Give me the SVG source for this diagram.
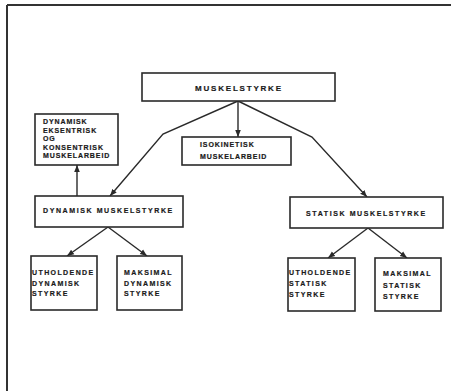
<svg xmlns="http://www.w3.org/2000/svg" width="451" height="391" viewBox="0 0 451 391">
<defs>
<style>
.box{fill:#fff;stroke:#2a2a2a;stroke-width:1.6}
.t{font-family:"Liberation Sans",Arial,sans-serif;font-weight:bold;font-size:7px;letter-spacing:0.9px;fill:#1a1a1a;stroke:#1a1a1a;stroke-width:0.2}
.w{letter-spacing:1.4px}
.ww{letter-spacing:1.6px}
.tt{font-family:"Liberation Sans",Arial,sans-serif;font-weight:bold;font-size:8px;letter-spacing:1.8px;fill:#1a1a1a;stroke:#1a1a1a;stroke-width:0.2}
.c{fill:none;stroke:#2a2a2a;stroke-width:1.4}
</style>
<marker id="ah" viewBox="0 0 10 10" refX="10" refY="5" markerWidth="7" markerHeight="7" orient="auto" markerUnits="userSpaceOnUse">
<path d="M0,1 L10,5 L0,9 Z" fill="#2a2a2a"/>
</marker>
</defs>
<rect width="451" height="391" fill="#fff"/>
<g id="frame" fill="none" stroke="#333" stroke-width="2">
<line x1="7" y1="5" x2="451" y2="5"/>
<line x1="7" y1="5" x2="7" y2="391"/>
</g>
<g id="connectors">
<polyline class="c" points="238,101 163,134 110,196" marker-end="url(#ah)"/>
<polyline class="c" points="238,101 312,137 367,197" marker-end="url(#ah)"/>
<line class="c" x1="238" y1="101" x2="238" y2="137" marker-end="url(#ah)"/>
<line class="c" x1="77" y1="196" x2="77" y2="165" marker-end="url(#ah)"/>
<line class="c" x1="108" y1="227" x2="67" y2="256" marker-end="url(#ah)"/>
<line class="c" x1="108" y1="227" x2="147" y2="256" marker-end="url(#ah)"/>
<line class="c" x1="368" y1="228" x2="328" y2="258" marker-end="url(#ah)"/>
<line class="c" x1="368" y1="228" x2="407" y2="258" marker-end="url(#ah)"/>
</g>
<g id="muskelstyrke">
<rect class="box" x="142" y="73" width="193" height="28"/>
<text class="tt" x="195" y="91">MUSKELSTYRKE</text>
</g>
<g id="eksentrisk">
<rect class="box" x="35" y="114" width="83" height="51"/>
<text class="t" x="43" y="124">DYNAMISK</text>
<text class="t" x="43" y="133">EKSENTRISK</text>
<text class="t" x="43" y="141">OG</text>
<text class="t" x="43" y="150">KONSENTRISK</text>
<text class="t" x="43" y="158">MUSKELARBEID</text>
</g>
<g id="isokinetisk">
<rect class="box" x="182" y="137" width="109" height="28"/>
<text class="t" x="200" y="147">ISOKINETISK</text>
<text class="t" x="200" y="159">MUSKELARBEID</text>
</g>
<g id="dynamisk">
<rect class="box" x="35" y="196" width="148" height="31"/>
<text class="t ww" x="43" y="213">DYNAMISK MUSKELSTYRKE</text>
</g>
<g id="statisk">
<rect class="box" x="290" y="197" width="153" height="31"/>
<text class="t ww" x="306" y="216">STATISK MUSKELSTYRKE</text>
</g>
<g id="utholdende-dynamisk">
<rect class="box" x="31" y="256" width="66" height="54"/>
<text class="t w" x="32" y="275">UTHOLDENDE</text>
<text class="t w" x="32" y="286">DYNAMISK</text>
<text class="t w" x="32" y="296">STYRKE</text>
</g>
<g id="maksimal-dynamisk">
<rect class="box" x="117" y="256" width="65" height="54"/>
<text class="t w" x="124" y="275">MAKSIMAL</text>
<text class="t w" x="124" y="286">DYNAMISK</text>
<text class="t w" x="124" y="296">STYRKE</text>
</g>
<g id="utholdende-statisk">
<rect class="box" x="288" y="258" width="67" height="53"/>
<text class="t w" x="289" y="275">UTHOLDENDE</text>
<text class="t w" x="289" y="286">STATISK</text>
<text class="t w" x="289" y="297">STYRKE</text>
</g>
<g id="maksimal-statisk">
<rect class="box" x="375" y="258" width="66" height="53"/>
<text class="t w" x="383" y="276">MAKSIMAL</text>
<text class="t w" x="383" y="288">STATISK</text>
<text class="t w" x="383" y="299">STYRKE</text>
</g>
</svg>
